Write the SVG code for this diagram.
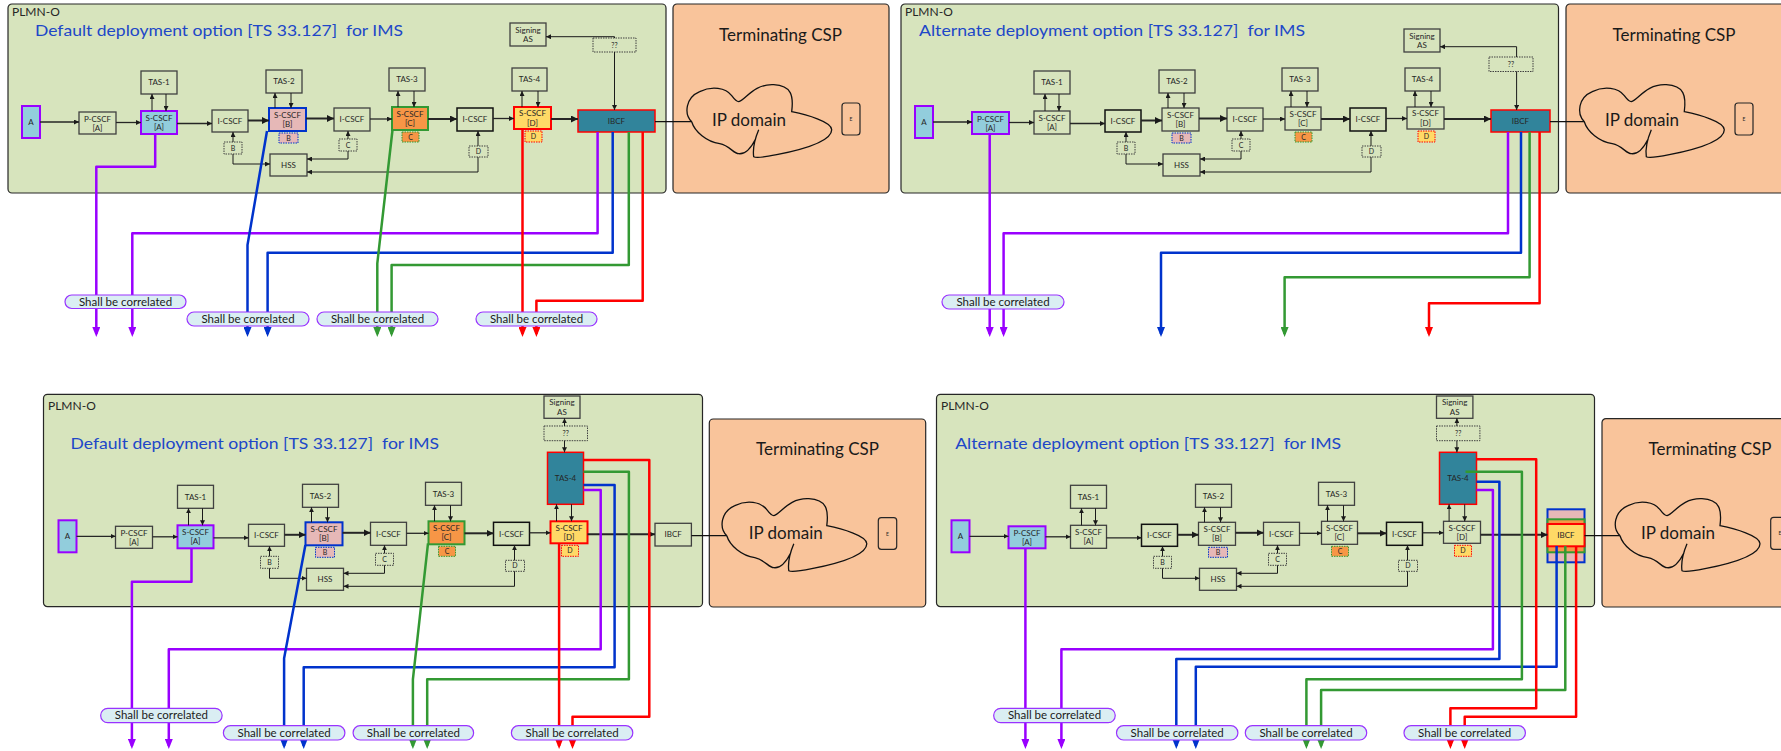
<svg xmlns="http://www.w3.org/2000/svg" width="1781" height="751" viewBox="0 0 1781 751">
<defs>
<style>
.pl{fill:#d7e4bd;stroke:#262626;stroke-width:1.2}
.csp{fill:#f9c49b;stroke:#262626;stroke-width:1.2}
.n{fill:#d7e4bd;stroke:#404040;stroke-width:1.3}
.nk{fill:#d7e4bd;stroke:#111;stroke-width:1.5}
.ds{fill:#d7e4bd;stroke:#404040;stroke-width:1;stroke-dasharray:1.5 1}
.fb{fill:#92cddc;stroke:#9900ff;stroke-width:2}
.fp{fill:#e6b8b7;stroke:#0033cc;stroke-width:2}
.fo{fill:#f79646;stroke:#339933;stroke-width:2}
.fy{fill:#ffd966;stroke:#ff0000;stroke-width:2}
.ft{fill:#31849b;stroke:#ff0000;stroke-width:1.5}
.sp{fill:#e6b8b7;stroke:#0033cc;stroke-width:1;stroke-dasharray:1.5 1}
.so{fill:#f79646;stroke:#339933;stroke-width:1;stroke-dasharray:1.5 1}
.sy{fill:#ffd966;stroke:#ff0000;stroke-width:1;stroke-dasharray:1.5 1}
text{font-family:Lato,"Liberation Sans",sans-serif;fill:#262626}
.t{font-size:8px;text-anchor:middle}
.s{font-size:7px;text-anchor:middle}
.e{font-size:5px;text-anchor:middle}
.h{font-size:12px}
.ti{font-size:16px;fill:#2047c8}
.big{font-size:17px;fill:#1a1a1a;text-anchor:middle}
.lb{fill:#daeef3;stroke:#9933ff;stroke-width:1.2}
.lt{font-size:11.5px;text-anchor:middle;fill:#1a1a1a}
.c{fill:none;stroke:#1a1a1a;stroke-width:1}
.m{fill:none;stroke:#262626;stroke-width:1.3}
.k{fill:none;stroke:#262626;stroke-width:2}
.cl{fill:none;stroke:#111;stroke-width:1.3}
.pu{fill:none;stroke:#9900ff;stroke-width:2.5;stroke-linejoin:round}
.bu{fill:none;stroke:#0033cc;stroke-width:2.5;stroke-linejoin:round}
.gn{fill:none;stroke:#339933;stroke-width:2.5;stroke-linejoin:round}
.rd{fill:none;stroke:#ff0000;stroke-width:2.5;stroke-linejoin:round}
</style>
<marker id="ma" viewBox="0 0 6 6" refX="6" refY="3" markerWidth="5" markerHeight="5" orient="auto" markerUnits="userSpaceOnUse"><path d="M0,0L6,3L0,6z" fill="#1a1a1a"/></marker>
<marker id="mb" viewBox="0 0 6 6" refX="6" refY="3" markerWidth="7" markerHeight="7" orient="auto" markerUnits="userSpaceOnUse"><path d="M0,0L6,3L0,6z" fill="#1a1a1a"/></marker>
<marker id="mpu" viewBox="0 0 10 8" refX="7" refY="4" markerWidth="10" markerHeight="8" orient="auto" markerUnits="userSpaceOnUse"><path d="M0,0L10,4L0,8z" fill="#9900ff"/></marker>
<marker id="mbu" viewBox="0 0 10 8" refX="7" refY="4" markerWidth="10" markerHeight="8" orient="auto" markerUnits="userSpaceOnUse"><path d="M0,0L10,4L0,8z" fill="#0033cc"/></marker>
<marker id="mgn" viewBox="0 0 10 8" refX="7" refY="4" markerWidth="10" markerHeight="8" orient="auto" markerUnits="userSpaceOnUse"><path d="M0,0L10,4L0,8z" fill="#339933"/></marker>
<marker id="mrd" viewBox="0 0 10 8" refX="7" refY="4" markerWidth="10" markerHeight="8" orient="auto" markerUnits="userSpaceOnUse"><path d="M0,0L10,4L0,8z" fill="#ff0000"/></marker>
<path id="cloud" fill="none" stroke="#111" stroke-width="1.3" d="M0,0 C-8,-8 -6,-24 8,-30 C20,-36 34,-34 40,-26 C43,-22 45,-20 47,-20 C54,-22 62,-38 82,-37 C100,-36 102,-26 100,-10 C115,-7 140,0 140,8 C140,20 110,28 85,33 C75,35 65,37 62,35 C61,28 62,20 67,8 M0,0 C3,10 15,20 28,22 C38,24 42,32 47,32 C55,33 60,25 64,17"/>
</defs>
<rect width="1781" height="751" fill="#ffffff"/>

<!-- ================= PANEL 1 ================= -->
<g id="panel1">
<g id="p1-plmn"><rect class="pl" x="8" y="4" width="658" height="189" rx="4"/><text class="h" x="12" y="16">PLMN-O</text><text class="ti" x="35" y="35.5" textLength="368" lengthAdjust="spacingAndGlyphs" xml:space="preserve">Default deployment option [TS 33.127]  for IMS</text></g>
<g id="p1-csp"><rect class="csp" x="673" y="4" width="216" height="189" rx="4"/><text class="big" x="780.5" y="40.5">Terminating CSP</text></g>
<g id="p1-A"><rect class="fb" x="22" y="106" width="18" height="32"/><text class="t" x="31" y="125">A</text></g>
<g id="p1-pcscf"><rect class="n" x="79" y="112" width="37" height="22"/><text class="t" x="97.5" y="121.5">P-CSCF</text><text class="t" x="97.5" y="131">[A]</text></g>
<g id="p1-tas1"><rect class="n" x="141" y="71" width="36" height="23"/><text class="t" x="159" y="85.4">TAS-1</text></g>
<g id="p1-scscfA"><rect class="fb" x="141" y="111" width="36" height="23"/><text class="t" x="159" y="120.7">S-CSCF</text><text class="t" x="159" y="130.2">[A]</text></g>
<g id="p1-icscf1"><rect class="n" x="212" y="110" width="36" height="22"/><text class="t" x="230" y="123.9">I-CSCF</text></g>
<g id="p1-tas2"><rect class="n" x="266" y="70" width="36" height="23"/><text class="t" x="284" y="84.4">TAS-2</text></g>
<g id="p1-scscfB"><rect class="fp" x="269" y="108" width="37" height="23"/><text class="t" x="287.5" y="117.7">S-CSCF</text><text class="t" x="287.5" y="127.2">[B]</text></g>
<g id="p1-sB"><rect class="sp" x="279" y="133" width="19" height="10"/><text class="s" x="288.5" y="140.5">B</text></g>
<g id="p1-icscf2"><rect class="n" x="334" y="108" width="36" height="23"/><text class="t" x="352" y="122.4">I-CSCF</text></g>
<g id="p1-tas3"><rect class="n" x="389" y="68" width="36" height="23"/><text class="t" x="407" y="82.4">TAS-3</text></g>
<g id="p1-scscfC"><rect class="fo" x="392" y="107" width="36" height="23"/><text class="t" x="410" y="116.7">S-CSCF</text><text class="t" x="410" y="126.2">[C]</text></g>
<g id="p1-sC"><rect class="so" x="402" y="132" width="17" height="10"/><text class="s" x="410.5" y="139.5">C</text></g>
<g id="p1-icscf3"><rect class="nk" x="457" y="108" width="36" height="23"/><text class="t" x="475" y="122.4">I-CSCF</text></g>
<g id="p1-tas4"><rect class="n" x="512" y="68" width="35" height="23"/><text class="t" x="529.5" y="82.4">TAS-4</text></g>
<g id="p1-scscfD"><rect class="fy" x="514" y="107" width="37" height="22"/><text class="t" x="532.5" y="116.3">S-CSCF</text><text class="t" x="532.5" y="125.8">[D]</text></g>
<g id="p1-sD"><rect class="sy" x="525" y="131" width="17" height="11"/><text class="s" x="533.5" y="139">D</text></g>
<g id="p1-dB"><rect class="ds" x="224" y="142" width="18" height="12"/><text class="s" x="233" y="150.5">B</text></g>
<g id="p1-dC"><rect class="ds" x="339" y="139" width="18" height="12"/><text class="s" x="348" y="147.5">C</text></g>
<g id="p1-dD"><rect class="ds" x="469" y="146" width="19" height="11"/><text class="s" x="478.5" y="154">D</text></g>
<g id="p1-hss"><rect class="n" x="270" y="154" width="37" height="22"/><text class="t" x="288.5" y="167.9">HSS</text></g>
<g id="p1-sign"><rect class="n" x="510" y="23" width="36" height="23"/><text class="t" x="528" y="32.5">Signing</text><text class="t" x="528" y="42">AS</text></g>
<g id="p1-qq"><rect class="ds" x="593" y="38" width="43" height="14"/><text class="s" x="614.5" y="47.5">??</text></g>
<g id="p1-ibcf"><rect class="ft" x="578" y="110" width="77" height="22"/><text class="t" x="616.5" y="123.9">IBCF</text></g>
<g id="p1-ip"><use href="#cloud" x="691.7" y="121.7"/><text class="big" x="749" y="126">IP domain</text></g>
<g id="p1-E"><rect class="csp" x="842" y="103" width="18" height="32" rx="3"/><text class="e" x="851" y="121">E</text></g>
<g id="p1-conn">
<path class="m" d="M40,122H79" marker-end="url(#ma)"/>
<path class="m" d="M116,122.5H141" marker-end="url(#ma)"/>
<path class="m" d="M177,123.5H212" marker-end="url(#ma)"/>
<path class="k" d="M248,120.5H269" marker-end="url(#mb)"/>
<path class="k" d="M306,118.5H334" marker-end="url(#mb)"/>
<path class="m" d="M370,119H392" marker-end="url(#ma)"/>
<path class="k" d="M428,119H457" marker-end="url(#mb)"/>
<path class="m" d="M493,118.5H514" marker-end="url(#ma)"/>
<path class="k" d="M551,119H578" marker-end="url(#mb)"/>
<path class="cl" d="M655,121.7H691.7"/>
<path class="c" d="M152,111V94" marker-end="url(#ma)"/>
<path class="c" d="M166,94V111" marker-end="url(#ma)"/>
<path class="c" d="M275,108V93" marker-end="url(#ma)"/>
<path class="c" d="M291,93V108" marker-end="url(#ma)"/>
<path class="c" d="M398,107V91" marker-end="url(#ma)"/>
<path class="c" d="M414,91V107" marker-end="url(#ma)"/>
<path class="c" d="M522,107V91" marker-end="url(#ma)"/>
<path class="c" d="M538,91V107" marker-end="url(#ma)"/>
<path class="c" d="M233,142V132" marker-end="url(#ma)"/>
<path class="c" d="M233,154V164H270" marker-end="url(#ma)"/>
<path class="c" d="M348,139V131" marker-end="url(#ma)"/>
<path class="c" d="M348,151V159H307" marker-end="url(#ma)"/>
<path class="c" d="M478,146V131" marker-end="url(#ma)"/>
<path class="c" d="M478,157V172H307" marker-end="url(#ma)"/>
<path class="c" d="M614.5,38V36.7H546" marker-end="url(#ma)"/>
<path class="c" d="M614.5,52V110" marker-end="url(#ma)"/>
<path class="pu" d="M155.2,134V166.7H96.3V334" marker-end="url(#mpu)"/>
<path class="pu" d="M597.6,132V233.3H132.3V334" marker-end="url(#mpu)"/>
<path class="bu" d="M267,131L247.5,245V334" marker-end="url(#mbu)"/>
<path class="bu" d="M612.7,132V252.7H267.6V334" marker-end="url(#mbu)"/>
<path class="gn" d="M392.5,130L377.3,263.3V334" marker-end="url(#mgn)"/>
<path class="gn" d="M628.8,132V265H391.6V334" marker-end="url(#mgn)"/>
<path class="rd" d="M522.5,129V334" marker-end="url(#mrd)"/>
<path class="rd" d="M642.7,132V300.7H536.4V334" marker-end="url(#mrd)"/>
</g>
<g id="p1-L1"><rect class="lb" x="65" y="295" width="121" height="13.5" rx="6.7"/><text class="lt" x="125.5" y="305.6">Shall be correlated</text></g>
<g id="p1-L2"><rect class="lb" x="187" y="312" width="122" height="14" rx="7"/><text class="lt" x="248" y="323">Shall be correlated</text></g>
<g id="p1-L3"><rect class="lb" x="317" y="312" width="121" height="14" rx="7"/><text class="lt" x="377.5" y="323">Shall be correlated</text></g>
<g id="p1-L4"><rect class="lb" x="476" y="312" width="121" height="14" rx="7"/><text class="lt" x="536.5" y="323">Shall be correlated</text></g>
</g>

<!-- ================= PANEL 2 ================= -->
<g id="panel2" transform="translate(893,0)">
<g id="p2-plmn"><rect class="pl" x="8" y="4" width="657.5" height="189" rx="4"/><text class="h" x="12" y="16">PLMN-O</text><text class="ti" x="26" y="35.5" textLength="386" lengthAdjust="spacingAndGlyphs" xml:space="preserve">Alternate deployment option [TS 33.127]  for IMS</text></g>
<g id="p2-csp"><rect class="csp" x="673" y="4" width="230" height="189" rx="4"/><text class="big" x="781" y="40.5">Terminating CSP</text></g>
<g id="p2-A"><rect class="fb" x="22" y="106" width="18" height="32"/><text class="t" x="31" y="125">A</text></g>
<g id="p2-pcscf"><rect class="fb" x="79" y="112" width="37" height="22"/><text class="t" x="97.5" y="121.5">P-CSCF</text><text class="t" x="97.5" y="131">[A]</text></g>
<g id="p2-tas1"><rect class="n" x="141" y="71" width="36" height="23"/><text class="t" x="159" y="85.4">TAS-1</text></g>
<g id="p2-scscfA"><rect class="n" x="141" y="111" width="36" height="23"/><text class="t" x="159" y="120.7">S-CSCF</text><text class="t" x="159" y="130.2">[A]</text></g>
<g id="p2-icscf1"><rect class="nk" x="212" y="110" width="36" height="22"/><text class="t" x="230" y="123.9">I-CSCF</text></g>
<g id="p2-tas2"><rect class="n" x="266" y="70" width="36" height="23"/><text class="t" x="284" y="84.4">TAS-2</text></g>
<g id="p2-scscfB"><rect class="n" x="269" y="108" width="37" height="23"/><text class="t" x="287.5" y="117.7">S-CSCF</text><text class="t" x="287.5" y="127.2">[B]</text></g>
<g id="p2-sB"><rect class="sp" x="279" y="133" width="19" height="10"/><text class="s" x="288.5" y="140.5">B</text></g>
<g id="p2-icscf2"><rect class="n" x="334" y="108" width="36" height="23"/><text class="t" x="352" y="122.4">I-CSCF</text></g>
<g id="p2-tas3"><rect class="n" x="389" y="68" width="36" height="23"/><text class="t" x="407" y="82.4">TAS-3</text></g>
<g id="p2-scscfC"><rect class="n" x="392" y="107" width="36" height="23"/><text class="t" x="410" y="116.7">S-CSCF</text><text class="t" x="410" y="126.2">[C]</text></g>
<g id="p2-sC"><rect class="so" x="402" y="132" width="17" height="10"/><text class="s" x="410.5" y="139.5">C</text></g>
<g id="p2-icscf3"><rect class="nk" x="457" y="108" width="36" height="23"/><text class="t" x="475" y="122.4">I-CSCF</text></g>
<g id="p2-tas4"><rect class="n" x="512" y="68" width="35" height="23"/><text class="t" x="529.5" y="82.4">TAS-4</text></g>
<g id="p2-scscfD"><rect class="n" x="514" y="107" width="37" height="22"/><text class="t" x="532.5" y="116.3">S-CSCF</text><text class="t" x="532.5" y="125.8">[D]</text></g>
<g id="p2-sD"><rect class="sy" x="525" y="131" width="17" height="11"/><text class="s" x="533.5" y="139">D</text></g>
<g id="p2-dB"><rect class="ds" x="224" y="142" width="18" height="12"/><text class="s" x="233" y="150.5">B</text></g>
<g id="p2-dC"><rect class="ds" x="339" y="139" width="18" height="12"/><text class="s" x="348" y="147.5">C</text></g>
<g id="p2-dD"><rect class="ds" x="469" y="146" width="19" height="11"/><text class="s" x="478.5" y="154">D</text></g>
<g id="p2-hss"><rect class="n" x="270" y="154" width="37" height="22"/><text class="t" x="288.5" y="167.9">HSS</text></g>
<g id="p2-sign"><rect class="n" x="511" y="29" width="36" height="23"/><text class="t" x="529" y="38.5">Signing</text><text class="t" x="529" y="48">AS</text></g>
<g id="p2-qq"><rect class="ds" x="596" y="57" width="44" height="14.5"/><text class="s" x="618" y="66.7">??</text></g>
<g id="p2-ibcf"><rect class="ft" x="598" y="110" width="59" height="22"/><text class="t" x="627.5" y="123.9">IBCF</text></g>
<g id="p2-ip"><use href="#cloud" x="691.3" y="121.7"/><text class="big" x="749" y="126">IP domain</text></g>
<g id="p2-E"><rect class="csp" x="842" y="103" width="18" height="32" rx="3"/><text class="e" x="851" y="121">E</text></g>
<g id="p2-conn">
<path class="m" d="M40,122H79" marker-end="url(#ma)"/>
<path class="m" d="M116,122.5H141" marker-end="url(#ma)"/>
<path class="m" d="M177,123.5H212" marker-end="url(#ma)"/>
<path class="k" d="M248,120.5H269" marker-end="url(#mb)"/>
<path class="k" d="M306,118.5H334" marker-end="url(#mb)"/>
<path class="m" d="M370,119H392" marker-end="url(#ma)"/>
<path class="k" d="M428,119H457" marker-end="url(#mb)"/>
<path class="m" d="M493,118.5H514" marker-end="url(#ma)"/>
<path class="k" d="M551,119H598" marker-end="url(#mb)"/>
<path class="cl" d="M657,121.7H691.3"/>
<path class="c" d="M152,111V94" marker-end="url(#ma)"/>
<path class="c" d="M166,94V111" marker-end="url(#ma)"/>
<path class="c" d="M275,108V93" marker-end="url(#ma)"/>
<path class="c" d="M291,93V108" marker-end="url(#ma)"/>
<path class="c" d="M398,107V91" marker-end="url(#ma)"/>
<path class="c" d="M414,91V107" marker-end="url(#ma)"/>
<path class="c" d="M522,107V91" marker-end="url(#ma)"/>
<path class="c" d="M538,91V107" marker-end="url(#ma)"/>
<path class="c" d="M233,142V132" marker-end="url(#ma)"/>
<path class="c" d="M233,154V164H270" marker-end="url(#ma)"/>
<path class="c" d="M348,139V131" marker-end="url(#ma)"/>
<path class="c" d="M348,151V159H307" marker-end="url(#ma)"/>
<path class="c" d="M478,146V131" marker-end="url(#ma)"/>
<path class="c" d="M478,157V172H307" marker-end="url(#ma)"/>
<path class="c" d="M623.6,57V46.7H547" marker-end="url(#ma)"/>
<path class="c" d="M623.6,71.5V110" marker-end="url(#ma)"/>
<path class="pu" d="M96.7,134.3V334" marker-end="url(#mpu)"/>
<path class="pu" d="M615,132V233.3H110.6V334" marker-end="url(#mpu)"/>
<path class="bu" d="M628,132V252.7H268V334" marker-end="url(#mbu)"/>
<path class="gn" d="M636.6,132V277.3H391.6V334" marker-end="url(#mgn)"/>
<path class="rd" d="M646.6,132V303.3H536V334" marker-end="url(#mrd)"/>
</g>
<g id="p2-L1"><rect class="lb" x="49" y="295" width="122" height="14" rx="7"/><text class="lt" x="110" y="306">Shall be correlated</text></g>
</g>

<!-- ================= PANEL 3 ================= -->
<g id="panel3" transform="translate(36.5,414.3)">
<g id="p3-plmn"><rect class="pl" x="7" y="-20" width="659" height="212.4" rx="4"/><text class="h" x="11.5" y="-4.3">PLMN-O</text><text class="ti" x="34" y="35.2" textLength="368.6" lengthAdjust="spacingAndGlyphs" xml:space="preserve">Default deployment option [TS 33.127]  for IMS</text></g>
<g id="p3-csp"><rect class="csp" x="672.8" y="4.7" width="216.4" height="188" rx="4"/><text class="big" x="781" y="41.2">Terminating CSP</text></g>
<g id="p3-A"><rect class="fb" x="22" y="106" width="18" height="32"/><text class="t" x="31" y="125">A</text></g>
<g id="p3-pcscf"><rect class="n" x="79" y="112" width="37" height="22"/><text class="t" x="97.5" y="121.5">P-CSCF</text><text class="t" x="97.5" y="131">[A]</text></g>
<g id="p3-tas1"><rect class="n" x="141" y="71" width="36" height="23"/><text class="t" x="159" y="85.4">TAS-1</text></g>
<g id="p3-scscfA"><rect class="fb" x="141" y="111" width="36" height="23"/><text class="t" x="159" y="120.7">S-CSCF</text><text class="t" x="159" y="130.2">[A]</text></g>
<g id="p3-icscf1"><rect class="n" x="212" y="110" width="36" height="22"/><text class="t" x="230" y="123.9">I-CSCF</text></g>
<g id="p3-tas2"><rect class="n" x="266" y="70" width="36" height="23"/><text class="t" x="284" y="84.4">TAS-2</text></g>
<g id="p3-scscfB"><rect class="fp" x="269" y="108" width="37" height="23"/><text class="t" x="287.5" y="117.7">S-CSCF</text><text class="t" x="287.5" y="127.2">[B]</text></g>
<g id="p3-sB"><rect class="sp" x="279" y="133" width="19" height="10"/><text class="s" x="288.5" y="140.5">B</text></g>
<g id="p3-icscf2"><rect class="n" x="334" y="108" width="36" height="23"/><text class="t" x="352" y="122.4">I-CSCF</text></g>
<g id="p3-tas3"><rect class="n" x="389" y="68" width="36" height="23"/><text class="t" x="407" y="82.4">TAS-3</text></g>
<g id="p3-scscfC"><rect class="fo" x="392" y="107" width="36" height="23"/><text class="t" x="410" y="116.7">S-CSCF</text><text class="t" x="410" y="126.2">[C]</text></g>
<g id="p3-sC"><rect class="so" x="402" y="132" width="17" height="10"/><text class="s" x="410.5" y="139.5">C</text></g>
<g id="p3-icscf3"><rect class="nk" x="457" y="108" width="36" height="23"/><text class="t" x="475" y="122.4">I-CSCF</text></g>
<g id="p3-scscfD"><rect class="fy" x="514" y="107" width="37" height="22"/><text class="t" x="532.5" y="116.3">S-CSCF</text><text class="t" x="532.5" y="125.8">[D]</text></g>
<g id="p3-sD"><rect class="sy" x="525" y="131" width="17" height="11"/><text class="s" x="533.5" y="139">D</text></g>
<g id="p3-dB"><rect class="ds" x="224" y="142" width="18" height="12"/><text class="s" x="233" y="150.5">B</text></g>
<g id="p3-dC"><rect class="ds" x="339" y="139" width="18" height="12"/><text class="s" x="348" y="147.5">C</text></g>
<g id="p3-dD"><rect class="ds" x="469" y="146" width="19" height="11"/><text class="s" x="478.5" y="154">D</text></g>
<g id="p3-hss"><rect class="n" x="270" y="154" width="37" height="22"/><text class="t" x="288.5" y="167.9">HSS</text></g>
<g id="p3-tas4"><rect class="ft" x="511" y="38" width="36" height="52"/><text class="t" x="529" y="66.9">TAS-4</text></g>
<g id="p3-sign"><rect class="n" x="507.5" y="-18.3" width="36" height="22.3"/><text class="t" x="525.5" y="-9.4">Signing</text><text class="t" x="525.5" y="0.3">AS</text></g>
<g id="p3-qq"><rect class="ds" x="507.5" y="11.7" width="43.5" height="14.7"/><text class="s" x="529.2" y="21.5">??</text></g>
<g id="p3-ibcf"><rect class="n" x="618.5" y="109" width="36.4" height="22.7"/><text class="t" x="636.7" y="123.2">IBCF</text></g>
<g id="p3-ip"><use href="#cloud" x="690.3" y="121.4"/><text class="big" x="749.2" y="125">IP domain</text></g>
<g id="p3-E"><rect class="csp" x="841.8" y="103.4" width="18.4" height="31.6" rx="3"/><text class="e" x="851" y="121.3">E</text></g>
<g id="p3-conn">
<path class="m" d="M40,122H79" marker-end="url(#ma)"/>
<path class="m" d="M116,122.5H141" marker-end="url(#ma)"/>
<path class="m" d="M177,123.5H212" marker-end="url(#ma)"/>
<path class="k" d="M248,120.5H269" marker-end="url(#mb)"/>
<path class="k" d="M306,118.5H334" marker-end="url(#mb)"/>
<path class="m" d="M370,119H392" marker-end="url(#ma)"/>
<path class="k" d="M428,119H457" marker-end="url(#mb)"/>
<path class="m" d="M493,118.5H514" marker-end="url(#ma)"/>
<path class="k" d="M551,120H618.5" marker-end="url(#mb)"/>
<path class="cl" d="M654.9,121.4H690.3"/>
<path class="c" d="M152,111V94" marker-end="url(#ma)"/>
<path class="c" d="M166,94V111" marker-end="url(#ma)"/>
<path class="c" d="M275,108V93" marker-end="url(#ma)"/>
<path class="c" d="M291,93V108" marker-end="url(#ma)"/>
<path class="c" d="M398,107V91" marker-end="url(#ma)"/>
<path class="c" d="M414,91V107" marker-end="url(#ma)"/>
<path class="c" d="M520,107V90" marker-end="url(#ma)"/>
<path class="c" d="M535,90V107" marker-end="url(#ma)"/>
<path class="c" d="M233,142V132" marker-end="url(#ma)"/>
<path class="c" d="M233,154V164H270" marker-end="url(#ma)"/>
<path class="c" d="M348,139V131" marker-end="url(#ma)"/>
<path class="c" d="M348,151V159H307" marker-end="url(#ma)"/>
<path class="c" d="M478,146V131" marker-end="url(#ma)"/>
<path class="c" d="M478,157V172H307" marker-end="url(#ma)"/>
<path class="c" d="M528,11.7V4" marker-end="url(#ma)"/>
<path class="c" d="M528,26.4V38" marker-end="url(#ma)"/>
<path class="pu" d="M155,134V167.4H95.4V331.7" marker-end="url(#mpu)"/>
<path class="pu" d="M547,75.7H564.2V235H132.3V331.7" marker-end="url(#mpu)"/>
<path class="bu" d="M268.9,130.7L247.6,244V331.7" marker-end="url(#mbu)"/>
<path class="bu" d="M547,70.7H578.1V253H267.2V331.7" marker-end="url(#mbu)"/>
<path class="gn" d="M391.5,129L376.4,265V331.7" marker-end="url(#mgn)"/>
<path class="gn" d="M547,57.4H592.4V265H390.7V331.7" marker-end="url(#mgn)"/>
<path class="rd" d="M522.6,129V331.7" marker-end="url(#mrd)"/>
<path class="rd" d="M547,45.7H612.8V302.4H536V331.7" marker-end="url(#mrd)"/>
</g>
<g id="p3-L1"><rect class="lb" x="64.2" y="294" width="121.4" height="14.4" rx="7"/><text class="lt" x="124.9" y="305.1">Shall be correlated</text></g>
<g id="p3-L2"><rect class="lb" x="186.9" y="311.4" width="121.5" height="14.3" rx="7"/><text class="lt" x="247.6" y="322.4">Shall be correlated</text></g>
<g id="p3-L3"><rect class="lb" x="316.6" y="311.4" width="120.5" height="14.3" rx="7"/><text class="lt" x="376.9" y="322.4">Shall be correlated</text></g>
<g id="p3-L4"><rect class="lb" x="474.9" y="311.4" width="121.4" height="14.3" rx="7"/><text class="lt" x="535.6" y="322.4">Shall be correlated</text></g>
</g>

<!-- ================= PANEL 4 ================= -->
<g id="panel4" transform="translate(929.5,414.3)">
<g id="p4-plmn"><rect class="pl" x="7" y="-20" width="658" height="212.4" rx="4"/><text class="h" x="11.5" y="-4.3">PLMN-O</text><text class="ti" x="25.7" y="35.2" textLength="386" lengthAdjust="spacingAndGlyphs" xml:space="preserve">Alternate deployment option [TS 33.127]  for IMS</text></g>
<g id="p4-csp"><rect class="csp" x="672.5" y="4.3" width="220" height="188.4" rx="4"/><text class="big" x="780.5" y="41.2">Terminating CSP</text></g>
<g id="p4-A"><rect class="fb" x="22" y="106" width="18" height="32"/><text class="t" x="31" y="125">A</text></g>
<g id="p4-pcscf"><rect class="fb" x="79" y="112" width="37" height="22"/><text class="t" x="97.5" y="121.5">P-CSCF</text><text class="t" x="97.5" y="131">[A]</text></g>
<g id="p4-tas1"><rect class="n" x="141" y="71" width="36" height="23"/><text class="t" x="159" y="85.4">TAS-1</text></g>
<g id="p4-scscfA"><rect class="n" x="141" y="111" width="36" height="23"/><text class="t" x="159" y="120.7">S-CSCF</text><text class="t" x="159" y="130.2">[A]</text></g>
<g id="p4-icscf1"><rect class="nk" x="212" y="110" width="36" height="22"/><text class="t" x="230" y="123.9">I-CSCF</text></g>
<g id="p4-tas2"><rect class="n" x="266" y="70" width="36" height="23"/><text class="t" x="284" y="84.4">TAS-2</text></g>
<g id="p4-scscfB"><rect class="n" x="269" y="108" width="37" height="23"/><text class="t" x="287.5" y="117.7">S-CSCF</text><text class="t" x="287.5" y="127.2">[B]</text></g>
<g id="p4-sB"><rect class="sp" x="279" y="133" width="19" height="10"/><text class="s" x="288.5" y="140.5">B</text></g>
<g id="p4-icscf2"><rect class="n" x="334" y="108" width="36" height="23"/><text class="t" x="352" y="122.4">I-CSCF</text></g>
<g id="p4-tas3"><rect class="n" x="389" y="68" width="36" height="23"/><text class="t" x="407" y="82.4">TAS-3</text></g>
<g id="p4-scscfC"><rect class="n" x="392" y="107" width="36" height="23"/><text class="t" x="410" y="116.7">S-CSCF</text><text class="t" x="410" y="126.2">[C]</text></g>
<g id="p4-sC"><rect class="so" x="402" y="132" width="17" height="10"/><text class="s" x="410.5" y="139.5">C</text></g>
<g id="p4-icscf3"><rect class="nk" x="457" y="108" width="36" height="23"/><text class="t" x="475" y="122.4">I-CSCF</text></g>
<g id="p4-scscfD"><rect class="n" x="514" y="107" width="37" height="22"/><text class="t" x="532.5" y="116.3">S-CSCF</text><text class="t" x="532.5" y="125.8">[D]</text></g>
<g id="p4-sD"><rect class="sy" x="525" y="131" width="17" height="11"/><text class="s" x="533.5" y="139">D</text></g>
<g id="p4-dB"><rect class="ds" x="224" y="142" width="18" height="12"/><text class="s" x="233" y="150.5">B</text></g>
<g id="p4-dC"><rect class="ds" x="339" y="139" width="18" height="12"/><text class="s" x="348" y="147.5">C</text></g>
<g id="p4-dD"><rect class="ds" x="469" y="146" width="19" height="11"/><text class="s" x="478.5" y="154">D</text></g>
<g id="p4-hss"><rect class="n" x="270" y="154" width="37" height="22"/><text class="t" x="288.5" y="167.9">HSS</text></g>
<g id="p4-tas4"><rect class="ft" x="510" y="38" width="37" height="52"/><text class="t" x="528.5" y="66.9">TAS-4</text></g>
<g id="p4-sign"><rect class="n" x="507" y="-18.3" width="36.4" height="22.3"/><text class="t" x="525.2" y="-9.4">Signing</text><text class="t" x="525.2" y="0.3">AS</text></g>
<g id="p4-qq"><rect class="ds" x="507" y="11.7" width="43.4" height="14.7"/><text class="s" x="528.7" y="21.5">??</text></g>
<g id="p4-ibcf"><rect fill="#e6b8b7" stroke="#0033cc" stroke-width="2" x="618" y="95" width="37" height="53"/><rect fill="#f79646" stroke="#339933" stroke-width="2" x="618" y="105" width="37" height="33"/><rect class="fy" x="618" y="109.7" width="37" height="22.3"/><text class="t" x="636.5" y="123.8">IBCF</text></g>
<g id="p4-ip"><use href="#cloud" x="690.5" y="121.4"/><text class="big" x="748.5" y="125">IP domain</text></g>
<g id="p4-E"><rect class="csp" x="841.2" y="103" width="18.4" height="32" rx="3"/><text class="e" x="850.4" y="121">E</text></g>
<g id="p4-conn">
<path class="m" d="M40,122H79" marker-end="url(#ma)"/>
<path class="m" d="M116,122.5H141" marker-end="url(#ma)"/>
<path class="m" d="M177,123.5H212" marker-end="url(#ma)"/>
<path class="k" d="M248,120.5H269" marker-end="url(#mb)"/>
<path class="k" d="M306,118.5H334" marker-end="url(#mb)"/>
<path class="m" d="M370,119H392" marker-end="url(#ma)"/>
<path class="k" d="M428,119H457" marker-end="url(#mb)"/>
<path class="m" d="M493,118.5H514" marker-end="url(#ma)"/>
<path class="k" d="M551,120.5H618" marker-end="url(#mb)"/>
<path class="cl" d="M655,121.4H690.5"/>
<path class="c" d="M152,111V94" marker-end="url(#ma)"/>
<path class="c" d="M166,94V111" marker-end="url(#ma)"/>
<path class="c" d="M275,108V93" marker-end="url(#ma)"/>
<path class="c" d="M291,93V108" marker-end="url(#ma)"/>
<path class="c" d="M398,107V91" marker-end="url(#ma)"/>
<path class="c" d="M414,91V107" marker-end="url(#ma)"/>
<path class="c" d="M519.6,107V90" marker-end="url(#ma)"/>
<path class="c" d="M535.2,90V107" marker-end="url(#ma)"/>
<path class="c" d="M233,142V132" marker-end="url(#ma)"/>
<path class="c" d="M233,154V164H270" marker-end="url(#ma)"/>
<path class="c" d="M348,139V131" marker-end="url(#ma)"/>
<path class="c" d="M348,151V159H307" marker-end="url(#ma)"/>
<path class="c" d="M478,146V131" marker-end="url(#ma)"/>
<path class="c" d="M478,157V172H307" marker-end="url(#ma)"/>
<path class="c" d="M527.4,11.7V4" marker-end="url(#ma)"/>
<path class="c" d="M527.4,26.4V38" marker-end="url(#ma)"/>
<path class="pu" d="M95.9,134V331.7" marker-end="url(#mpu)"/>
<path class="pu" d="M547,75.7H563.4V235H131.9V331.7" marker-end="url(#mpu)"/>
<path class="bu" d="M547,67.4H569.9V244.7H246.8V331.7" marker-end="url(#mbu)"/>
<path class="bu" d="M627.1,131.7V252.4H266.3V331.7" marker-end="url(#mbu)"/>
<path class="gn" d="M536,57.4H592.4V265H376.9V331.7" marker-end="url(#mgn)"/>
<path class="gn" d="M635.8,131.7V275.7H391.6V331.7" marker-end="url(#mgn)"/>
<path class="rd" d="M547.5,45H606.7V294H520.9V331.7" marker-end="url(#mrd)"/>
<path class="rd" d="M646.6,131.7V302.4H535.2V331.7" marker-end="url(#mrd)"/>
</g>
<g id="p4-L1"><rect class="lb" x="64.2" y="294" width="121.5" height="14.4" rx="7"/><text class="lt" x="125" y="305.1">Shall be correlated</text></g>
<g id="p4-L2"><rect class="lb" x="187" y="311.4" width="121.4" height="14.3" rx="7"/><text class="lt" x="247.7" y="322.4">Shall be correlated</text></g>
<g id="p4-L3"><rect class="lb" x="315.8" y="311.4" width="121.4" height="14.3" rx="7"/><text class="lt" x="376.5" y="322.4">Shall be correlated</text></g>
<g id="p4-L4"><rect class="lb" x="474.5" y="311.4" width="121.4" height="14.3" rx="7"/><text class="lt" x="535.2" y="322.4">Shall be correlated</text></g>
</g>
</svg>
